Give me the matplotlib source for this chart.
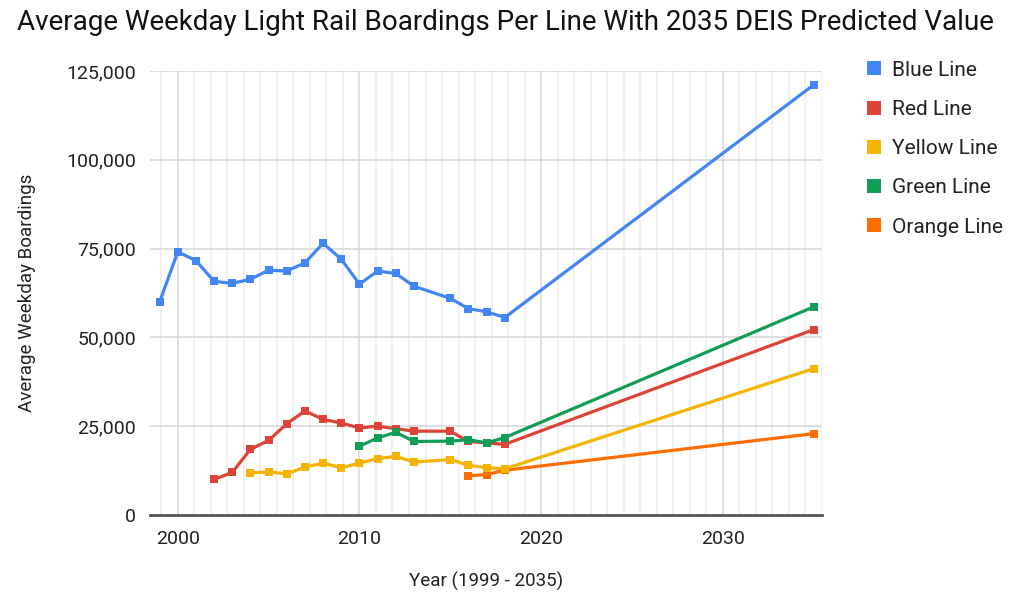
import matplotlib
matplotlib.use("Agg")
import matplotlib.pyplot as plt
from matplotlib.lines import Line2D
from matplotlib.ticker import FuncFormatter, MultipleLocator

# Average weekday boardings
blue_years = [1999, 2000, 2001, 2002, 2003, 2004, 2005, 2006, 2007, 2008, 2009,
              2010, 2011, 2012, 2013, 2015, 2016, 2017, 2018, 2035]
blue_values = [60000, 74100, 71600, 65800, 65200, 66400, 68900, 68700, 71000, 76500, 72000,
               65000, 68700, 68000, 64400, 61000, 58100, 57200, 55600, 121100]

red_years = [2002, 2003, 2004, 2005, 2006, 2007, 2008, 2009, 2010, 2011, 2012,
             2013, 2015, 2016, 2017, 2018, 2035]
red_values = [10000, 12000, 18500, 21000, 25700, 29300, 26900, 25900, 24500, 25000, 24300,
              23600, 23600, 20700, 20300, 19900, 52200]

yellow_years = [2004, 2005, 2006, 2007, 2008, 2009, 2010, 2011, 2012, 2013, 2015,
                2016, 2017, 2018, 2035]
yellow_values = [11900, 12100, 11600, 13500, 14600, 13300, 14600, 15900, 16500, 14900, 15600,
                 14000, 13300, 13000, 41200]

green_years = [2010, 2011, 2012, 2013, 2015, 2016, 2017, 2018, 2035]
green_values = [19400, 21700, 23300, 20700, 20800, 21200, 20300, 21800, 58600]

orange_years = [2016, 2017, 2018, 2035]
orange_values = [11000, 11400, 12600, 22900]

series = [
    ("Blue Line", blue_years, blue_values, "#4285F4"),
    ("Red Line", red_years, red_values, "#DB4437"),
    ("Yellow Line", yellow_years, yellow_values, "#F4B400"),
    ("Green Line", green_years, green_values, "#0F9D58"),
    ("Orange Line", orange_years, orange_values, "#FF6D00"),
]
draw_order = ["Orange Line", "Yellow Line", "Red Line", "Green Line", "Blue Line"]

plt.rcParams["font.family"] = ["Roboto", "DejaVu Sans"]

fig = plt.figure(figsize=(10.1, 6.01), dpi=100)
ax = fig.add_axes([150 / 1010, 1 - 515 / 601, 672 / 1010, 444 / 601])

lookup = {name: (x, y, c) for name, x, y, c in series}
for z, name in enumerate(draw_order):
    x, y, c = lookup[name]
    ax.plot(x, y, color=c, linewidth=2.3, marker="s", markersize=6,
            markeredgewidth=0, zorder=3 + z)

ax.set_xlim(1998.47, 2035.46)
ax.set_ylim(0, 125000)
ax.set_yticks([0, 25000, 50000, 75000, 100000, 125000])
ax.yaxis.set_major_formatter(FuncFormatter(lambda v, _: f"{int(v):,}"))
ax.set_xticks([2000, 2010, 2020, 2030])
ax.xaxis.set_minor_locator(MultipleLocator(10 / 11))

ax.grid(axis="y", which="major", color="#d9d9d9", linewidth=1.2)
ax.grid(axis="x", which="minor", color="#ededed", linewidth=1.2)
ax.grid(axis="x", which="major", color="#dcdcdc", linewidth=1.2)
ax.set_axisbelow(True)

for side in ["top", "right", "left"]:
    ax.spines[side].set_visible(False)
ax.spines["bottom"].set_color("#555555")
ax.spines["bottom"].set_linewidth(2)
ax.spines["bottom"].set_zorder(10)
ax.tick_params(axis="both", which="both", length=0, labelsize=14, colors="#222222")
ax.tick_params(axis="x", pad=11)
ax.tick_params(axis="y", pad=10)

ax.set_xlabel("Year (1999 - 2035)", fontsize=13.5, color="#222222", labelpad=17)
ax.set_ylabel("Average Weekday Boardings", fontsize=13.5, color="#222222", labelpad=22)

fig.text(0.5, 1 - 22 / 601, "Average Weekday Light Rail Boardings Per Line With 2035 DEIS Predicted Value",
         ha="center", va="center", fontsize=20, color="#111111")

handles = [Line2D([], [], linestyle="none", marker="s", markersize=10.5, markeredgewidth=0,
                  color=c) for _, _, _, c in series]
fig.legend(handles, [s[0] for s in series], loc="upper left",
           bbox_to_anchor=(845 / 1010, 1 - 42 / 601), frameon=False, fontsize=15,
           labelspacing=0.97, handletextpad=0.35, handlelength=1.0, labelcolor="#222222")

fig.savefig("out.png", dpi=100)
